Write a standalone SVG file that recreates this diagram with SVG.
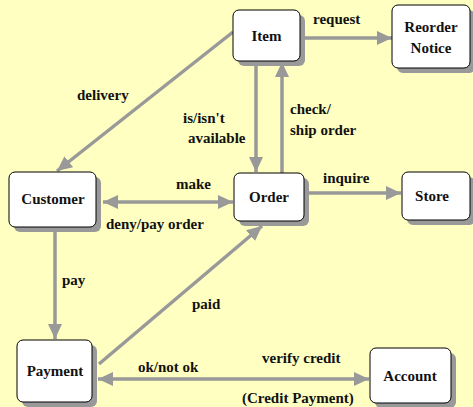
<svg xmlns="http://www.w3.org/2000/svg" width="473" height="407" viewBox="0 0 473 407">
<defs>
<marker id="ah" markerUnits="userSpaceOnUse" markerWidth="16" markerHeight="14" refX="15" refY="7" orient="auto-start-reverse" viewBox="0 0 16 14">
<path d="M0,0 L15,7 L0,14 z" fill="#999999"/>
</marker>
</defs>
<rect width="473" height="407" fill="#ffffc2"/>
<g id="connectors" stroke="#999999" stroke-width="3.5" fill="none">
<path marker-end="url(#ah)" d="M233,32 L57,171"/>
<path marker-end="url(#ah)" d="M300,38 L392,38"/>
<path marker-end="url(#ah)" d="M256,61 L256,172"/>
<path marker-end="url(#ah)" d="M282,173 L282,62"/>
<path marker-start="url(#ah)" marker-end="url(#ah)" d="M103,202 L233,202"/>
<path marker-end="url(#ah)" d="M304,193 L401,193"/>
<path marker-end="url(#ah)" d="M55,227 L55,339"/>
<path marker-end="url(#ah)" d="M99,364 L262,226"/>
<path marker-start="url(#ah)" marker-end="url(#ah)" d="M98,379 L369,379"/>
</g>
<g id="labels" fill="#111111" stroke="none">
<text style="font-family:Liberation Serif,serif;font-weight:bold;font-size:15px" x="77" y="100">delivery</text>
<text style="font-family:Liberation Serif,serif;font-weight:bold;font-size:15px" x="183" y="123">is/isn't</text>
<text style="font-family:Liberation Serif,serif;font-weight:bold;font-size:15px" x="188" y="143">available</text>
<text style="font-family:Liberation Serif,serif;font-weight:bold;font-size:15px" x="313" y="24">request</text>
<text style="font-family:Liberation Serif,serif;font-weight:bold;font-size:15px" x="290" y="114">check/</text>
<text style="font-family:Liberation Serif,serif;font-weight:bold;font-size:15px" x="290" y="135">ship order</text>
<text style="font-family:Liberation Serif,serif;font-weight:bold;font-size:15px" x="323" y="183">inquire</text>
<text style="font-family:Liberation Serif,serif;font-weight:bold;font-size:15px" x="176" y="189">make</text>
<text style="font-family:Liberation Serif,serif;font-weight:bold;font-size:15px" x="106" y="229">deny/pay order</text>
<text style="font-family:Liberation Serif,serif;font-weight:bold;font-size:15px" x="62" y="285">pay</text>
<text style="font-family:Liberation Serif,serif;font-weight:bold;font-size:15px" x="192" y="309">paid</text>
<text style="font-family:Liberation Serif,serif;font-weight:bold;font-size:15px" x="138" y="372">ok/not ok</text>
<text style="font-family:Liberation Serif,serif;font-weight:bold;font-size:15px" x="262" y="363">verify credit</text>
<text style="font-family:Liberation Serif,serif;font-weight:bold;font-size:15px" x="242" y="403">(Credit Payment)</text>
</g>
<g id="item">
<rect fill="#999999" x="238" y="15" width="67" height="51" rx="6"/>
<rect fill="#ffffff" stroke="#000000" x="233" y="10" width="67" height="51" rx="6"/>
<text style="font-family:Liberation Serif,serif;font-weight:bold;font-size:15px" text-anchor="middle" fill="#111111" x="266.5" y="41">Item</text>
</g>
<g id="reorder">
<rect fill="#999999" x="397" y="10" width="78" height="63" rx="6"/>
<rect fill="#ffffff" stroke="#000000" x="392" y="5" width="78" height="63" rx="6"/>
<text style="font-family:Liberation Serif,serif;font-weight:bold;font-size:15px" text-anchor="middle" fill="#111111" x="431" y="32">Reorder</text>
<text style="font-family:Liberation Serif,serif;font-weight:bold;font-size:15px" text-anchor="middle" fill="#111111" x="431" y="53">Notice</text>
</g>
<g id="order">
<rect fill="#999999" x="239" y="178" width="70" height="48" rx="6"/>
<rect fill="#ffffff" stroke="#000000" x="234" y="173" width="70" height="48" rx="6"/>
<text style="font-family:Liberation Serif,serif;font-weight:bold;font-size:15px" text-anchor="middle" fill="#111111" x="269" y="202">Order</text>
</g>
<g id="store">
<rect fill="#999999" x="407" y="177" width="68" height="48" rx="6"/>
<rect fill="#ffffff" stroke="#000000" x="402" y="172" width="68" height="48" rx="6"/>
<text style="font-family:Liberation Serif,serif;font-weight:bold;font-size:15px" text-anchor="middle" fill="#111111" x="432" y="201">Store</text>
</g>
<g id="customer">
<rect fill="#999999" x="14" y="177" width="87" height="55" rx="6"/>
<rect fill="#ffffff" stroke="#000000" x="9" y="172" width="87" height="55" rx="6"/>
<text style="font-family:Liberation Serif,serif;font-weight:bold;font-size:15px" text-anchor="middle" fill="#111111" x="53" y="204">Customer</text>
</g>
<g id="payment">
<rect fill="#999999" x="22" y="345" width="75" height="62" rx="6"/>
<rect fill="#ffffff" stroke="#000000" x="17" y="340" width="75" height="62" rx="6"/>
<text style="font-family:Liberation Serif,serif;font-weight:bold;font-size:15px" text-anchor="middle" fill="#111111" x="55" y="376">Payment</text>
</g>
<g id="account">
<rect fill="#999999" x="375" y="353" width="81" height="55" rx="6"/>
<rect fill="#ffffff" stroke="#000000" x="370" y="348" width="81" height="55" rx="6"/>
<text style="font-family:Liberation Serif,serif;font-weight:bold;font-size:15px" text-anchor="middle" fill="#111111" x="410" y="381">Account</text>
</g>
</svg>
